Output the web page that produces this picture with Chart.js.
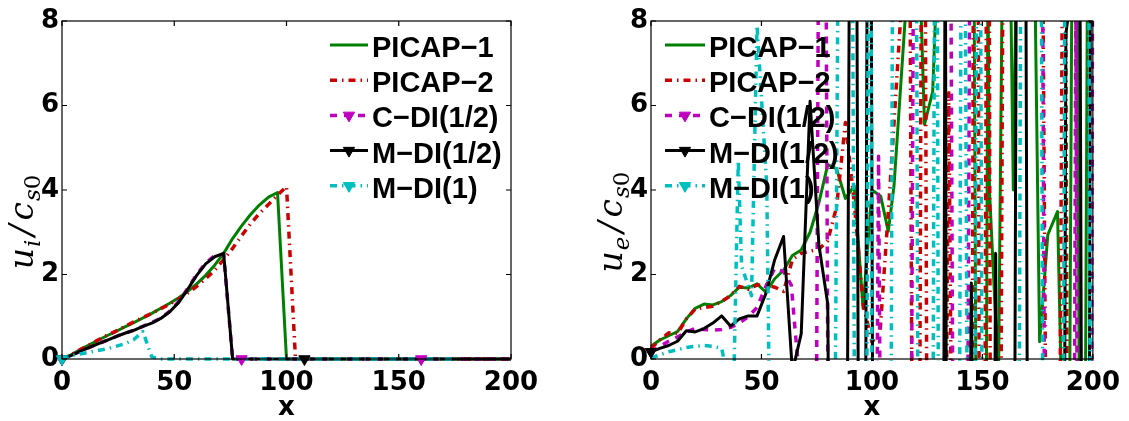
<!DOCTYPE html>
<html>
<head>
<meta charset="utf-8">
<script src="https://cdn.jsdelivr.net/npm/chart.js@4.4.1/dist/chart.umd.min.js"></script>
<style>
  body { margin: 0; background: #fff; }
  #wrap { position: relative; width: 1129px; height: 421px; }
  #leftBox { position: absolute; left: 0; top: 0; }
  #rightBox { position: absolute; left: 565px; top: 0; }
  canvas { display: block; }
</style>
</head>
<body>
<div id="wrap">
  <div id="leftBox"><canvas id="leftChart" width="565" height="421"></canvas></div>
  <div id="rightBox"><canvas id="rightChart" width="564" height="421"></canvas></div>
</div>
<script>
// ---- data ----
var seriesNames = ['PICAP\u22121', 'PICAP\u22122', 'C\u2212DI(1/2)', 'M\u2212DI(1/2)', 'M\u2212DI(1)'];
var xTicks = [0, 50, 100, 150, 200];
var yTicks = [0, 2, 4, 6, 8];

// left panel: u_i / c_s0, sampled every 4 cells
var xLeft = [0,4,8,12,16,20,24,28,32,36,40,44,48,52,56,60,64,68,72,76,80,84,88,92,96,100,
  104,108,112,116,120,124,128,132,136,140,144,148,152,156,160,164,168,172,176,180,184,188,192,196,200];
var picap1Left = [0,0.1,0.22,0.33,0.44,0.55,0.65,0.76,0.86,0.97,1.08,1.2,1.32,1.45,1.6,1.78,1.98,2.22,2.5,2.85,3.15,3.42,3.65,3.83,3.94,0,
  0,0,0,0,0,0,0,0,0,0,0,0,0,0,0,0,0,0,0,0,0,0,0,0,0];
var picap2Left = [0,0.1,0.22,0.33,0.45,0.56,0.66,0.77,0.88,0.98,1.08,1.19,1.3,1.42,1.56,1.72,1.9,2.1,2.35,2.62,2.92,3.2,3.45,3.66,3.88,4.08,0,
  0,0,0,0,0,0,0,0,0,0,0,0,0,0,0,0,0,0,0,0,0,0,0,0];
var cdiLeft = [0,0.08,0.18,0.27,0.36,0.44,0.53,0.61,0.68,0.77,0.86,0.97,1.13,1.36,1.67,2.0,2.27,2.45,2.48,0,
  0,0,0,0,0,0,0,0,0,0,0,0,0,0,0,0,0,0,0,0,0,0,0,0,0,0,0,0,0,0,0];
var mdiHalfLeft = [0,0.08,0.18,0.27,0.36,0.44,0.53,0.61,0.68,0.77,0.85,0.96,1.12,1.34,1.65,1.98,2.25,2.42,2.5,0,
  0,0,0,0,0,0,0,0,0,0,0,0,0,0,0,0,0,0,0,0,0,0,0,0,0,0,0,0,0,0,0];
var mdi1Left = [0,0.08,0.12,0.16,0.2,0.24,0.3,0.36,0.46,0.65,0.05,0,
  0,0,0,0,0,0,0,0,0,0,0,0,0,0,0,0,0,0,0,0,0,0,0,0,0,0,0,0,0,0,0,0,0];
var cdiMarkLeft = [0, 20, 40];
var mdiHalfMarkLeft = [0, 27];
var mdi1MarkLeft = [0, 50];

// right panel: u_e / c_s0 (values beyond the axis run off-scale)
var picap1RightX = [0,4,8,12,16,20,24,28,32,36,40,44,48,52,56,60,64,68,72,76,80,84,88,92,
  96,100,104,107.4,110,116,120,123.8,127.5,130.5,146,148,151,152.5,153.2,157.3,159.5,162,164,166,173,175.9,179.6,184,188,189,191,192.5,194.5,196,198,200];
var picap1RightY = [0.3,0.45,0.55,0.65,0.95,1.2,1.3,1.28,1.36,1.5,1.7,1.68,1.78,1.58,1.9,2.1,2.45,2.58,3.0,3.7,4.6,4.5,3.8,4.1,
  1.2,4.0,3.85,3.02,4.1,8.8,12,5.55,6.33,10.5,12,-12,-12,9,4.0,-0.5,12,12,4.0,12,12,0.41,2.94,3.49,-6,-6,14,14,-8,-8,14,14];
var picap2RightX = [0,4,8,12,16,20,24,28,32,36,40,44,48,52,56,60,64,68,72,76,80,84,
  88,92,96,100,103.7,108.2,113.5,117,119,121,122.5,124,125.5,132,134.8,137.5,145,146,148,149,150.5,152,153,154,157.5,159.5,177,180,184,186.5,187.5,189,200];
var picap2RightY = [0.25,0.45,0.62,0.6,0.95,1.18,1.22,1.25,1.36,1.5,1.72,1.65,1.75,1.75,1.7,1.6,2.35,2.5,2.55,2.6,2.8,3.6,
  5.6,3.7,1.3,0.4,0.65,4.1,8.5,12,-12,-12,12,12,-12,-12,6.3,-12,-12,12,12,-12,-12,12,12,-12,-12,12,12,-12,-12,12,12,-12,-12];
var cdiRightX = [0,4,8,12,16,20,24,28,32,36,40,44,48,52,56,60,
  63.5,68,74,76,79,81,101,103,105,117,119,135.5,137.5,142.5,144.5,177,179,191,192.3,193.5,199,200];
var cdiRightY = [0.17,0.3,0.42,0.52,0.64,0.72,0.7,0.68,0.7,0.75,0.85,1.0,1.22,1.72,2.15,2.07,
  1.75,-1,-12,12,12,-12,-12,4.8,-12,-12,12,12,-12,-12,12,12,-12,-12,8.6,-12,-12,12];
var mdiHalfRightX = [0,4,8,12,16,20,24,28,32,36,40,44,48,52,56,60,64,68,72,76,80,
  82,88,90,93,94.5,96.5,98,99.5,101,132,133.2,134,143,145,147,154.5,156,157.5,164,165.5,169.5,171,186.5,187.8,191,194,195.5,198,199,200];
var mdiHalfRightY = [0.17,0.25,0.32,0.42,0.67,0.64,0.72,0.85,1.02,0.78,0.95,1.02,1.02,1.55,2.35,2.9,-0.3,0.6,6.1,2.7,1.3,
  -12,-12,12,12,-12,-12,12,12,-12,-12,12,-12,-12,1.8,-12,-12,2.5,-12,-12,12,12,-12,-12,7.7,9,12,-12,-12,12,12];
var mdi1RightX = [0,4,8,12,16,20,24,28,32,35,37.5,39.5,41,45.5,48,52.4,53.8,
  82,85,91,93,97,98.5,99.5,100.5,108,109.5,120,121.5,127,128.5,129.5,130.5,139,140.5,142,144,146,147.5,149,150.5,166,167.5,176.5,178,186,187.5,198,199.5,200];
var mdi1RightY = [0.02,0.1,0.17,0.22,0.27,0.3,0.32,0.3,0.25,-0.5,-0.5,4.7,2.2,1.5,7.9,4.1,-2,
  -12,12,12,-12,-12,12,12,-12,-12,12,12,-12,-12,12,12,-12,-12,12,12,-12,-12,12,12,-12,-12,12,12,-12,-12,12,12,-12,-12];
var cdiMarkRight = [0];
var mdiHalfMarkRight = [0];
var mdi1MarkRight = [];

// ---- styles ----
var styles = [
  { color: 'rgb(0,128,0)',   dash: [],              width: 3,   marker: false },
  { color: 'rgb(204,0,0)',   dash: [7, 5, 1.5, 5],  width: 3.5, marker: false },
  { color: 'rgb(191,0,191)', dash: [7, 7],          width: 3.5, marker: true },
  { color: 'rgb(0,0,0)',     dash: [],              width: 3,   marker: true },
  { color: 'rgb(0,191,191)', dash: [7, 5, 1.5, 5],  width: 3.5, marker: true }
];

function toPoints(xs, ys) {
  return xs.map(function (x, i) { return { x: x, y: ys[i] }; });
}

function lineSet(i, xs, ys) {
  var st = styles[i];
  return {
    label: seriesNames[i],
    data: toPoints(xs, ys),
    borderColor: st.color,
    borderWidth: st.width,
    borderDash: st.dash,
    borderJoinStyle: 'round',
    pointRadius: 0,
    tension: 0,
    order: 10 - i,
    clip: { left: 2, top: 0, right: 2, bottom: 2 }
  };
}

function markerSet(i, xs, ys, idx) {
  var st = styles[i];
  return {
    label: seriesNames[i],
    isMarker: true,
    data: idx.map(function (k) { return { x: xs[k], y: ys[k] }; }),
    showLine: false,
    pointStyle: 'triangle',
    pointRotation: 180,
    pointRadius: 6.5,
    pointBackgroundColor: st.color,
    pointBorderColor: st.color,
    pointBorderWidth: 1,
    order: 4 - i,
    clip: false
  };
}

// box with inward ticks, legend and the y label
var framePlugin = {
  id: 'frame',
  afterDatasetsDraw: function (chart, args, opts) {
    var ctx = chart.ctx, a = chart.chartArea, sx = chart.scales.x, sy = chart.scales.y;
    ctx.save();
    ctx.strokeStyle = '#000';
    ctx.lineWidth = 1.2;
    ctx.setLineDash([]);
    ctx.strokeRect(a.left, a.top, a.right - a.left, a.bottom - a.top);
    ctx.beginPath();
    sx.ticks.forEach(function (t) {
      var p = sx.getPixelForValue(t.value);
      ctx.moveTo(p, a.bottom); ctx.lineTo(p, a.bottom - 5);
      ctx.moveTo(p, a.top); ctx.lineTo(p, a.top + 5);
    });
    sy.ticks.forEach(function (t) {
      var p = sy.getPixelForValue(t.value);
      ctx.moveTo(a.left, p); ctx.lineTo(a.left + 5, p);
      ctx.moveTo(a.right, p); ctx.lineTo(a.right - 5, p);
    });
    ctx.stroke();
    ctx.restore();
  },
  afterDraw: function (chart, args, opts) {
    var ctx = chart.ctx, a = chart.chartArea;

    // legend
    var x0 = opts.side === 'right' ? a.right - 181 : a.left + 14;
    var len = opts.side === 'right' ? 38 : 40;
    var k = 0;
    ctx.save();
    chart.data.datasets.forEach(function (ds, i) {
      if (ds.isMarker) return;
      var st = styles[i];
      var y = a.top + 24 + 35.2 * k;
      ctx.strokeStyle = st.color;
      ctx.lineWidth = st.width;
      ctx.lineCap = 'butt';
      ctx.setLineDash(st.dash);
      ctx.beginPath();
      ctx.moveTo(x0, y); ctx.lineTo(x0 + len, y);
      ctx.stroke();
      ctx.setLineDash([]);
      if (st.marker) {
        ctx.fillStyle = st.color;
        ctx.lineWidth = 1;
        Chart.helpers.drawPoint(ctx, { pointStyle: 'triangle', rotation: 180, radius: 6.5, borderWidth: 1 }, x0 + len / 2, y);
      }
      ctx.fillStyle = '#000';
      ctx.font = 'bold 29px "Liberation Sans", Arial, sans-serif';
      ctx.textAlign = 'left';
      ctx.textBaseline = 'alphabetic';
      ctx.fillText(ds.label, x0 + len + 4, y + 12);
      k++;
    });
    ctx.restore();

    // y label  u_i / c_s0
    var big = 'italic 33px "DejaVu Serif"', small = 'italic 23px "DejaVu Serif"', smallUp = '23px "DejaVu Serif"';
    var parts = [
      { t: 'u', f: big, dy: 0, gap: 0 },
      { t: opts.sub, f: small, dy: 7, gap: 1 },
      { t: '/', f: big, dy: 0, gap: 4 },
      { t: 'c', f: big, dy: 0, gap: 4 },
      { t: 's', f: small, dy: 7, gap: 1 },
      { t: '0', f: smallUp, dy: 7, gap: 0 }
    ];
    ctx.save();
    var total = 0;
    parts.forEach(function (p) { ctx.font = p.f; p.w = ctx.measureText(p.t).width; total += p.w + p.gap; });
    ctx.translate(a.left - 29, a.top + 201);
    ctx.rotate(-Math.PI / 2);
    ctx.fillStyle = '#000';
    ctx.textBaseline = 'alphabetic';
    var cx = -total / 2;
    parts.forEach(function (p) {
      cx += p.gap;
      ctx.font = p.f;
      ctx.fillText(p.t, cx, p.dy);
      cx += p.w;
    });
    ctx.restore();
  }
};

function makeOptions(yWidth, padRight, side, sub) {
  var tickFont = { family: 'DejaVu Sans', weight: 'bold', size: 26 };
  return {
    responsive: false,
    animation: false,
    events: [],
    layout: { padding: { top: 21, right: padRight, left: 0, bottom: 0 } },
    scales: {
      x: {
        type: 'linear', min: 0, max: 200,
        afterBuildTicks: function (s) { s.ticks = xTicks.map(function (v) { return { value: v }; }); },
        afterFit: function (s) { s.height = 62; },
        grid: { display: false, drawTicks: false },
        border: { display: false },
        ticks: { font: tickFont, color: '#000', padding: 9, maxRotation: 0 },
        title: { display: true, text: 'x', color: '#000', padding: 0,
                 font: { family: 'DejaVu Sans', weight: 'bold', size: 26, lineHeight: 1 } }
      },
      y: {
        type: 'linear', min: 0, max: 8,
        afterBuildTicks: function (s) { s.ticks = yTicks.map(function (v) { return { value: v }; }); },
        afterFit: function (s) { s.width = yWidth; },
        grid: { display: false, drawTicks: false },
        border: { display: false },
        ticks: { font: tickFont, color: '#000', padding: 3 }
      }
    },
    plugins: {
      legend: { display: false },
      tooltip: { enabled: false },
      frame: { side: side, sub: sub }
    }
  };
}

new Chart(document.getElementById('leftChart').getContext('2d'), {
  type: 'line',
  data: {
    datasets: [
      lineSet(0, xLeft, picap1Left),
      lineSet(1, xLeft, picap2Left),
      lineSet(2, xLeft, cdiLeft),
      lineSet(3, xLeft, mdiHalfLeft),
      lineSet(4, xLeft, mdi1Left),
      markerSet(2, xLeft, cdiLeft, cdiMarkLeft),
      markerSet(3, xLeft, mdiHalfLeft, mdiHalfMarkLeft),
      markerSet(4, xLeft, mdi1Left, mdi1MarkLeft)
    ]
  },
  options: makeOptions(62, 54, 'right', 'i'),
  plugins: [framePlugin]
});

new Chart(document.getElementById('rightChart').getContext('2d'), {
  type: 'line',
  data: {
    datasets: [
      lineSet(0, picap1RightX, picap1RightY),
      lineSet(1, picap2RightX, picap2RightY),
      lineSet(2, cdiRightX, cdiRightY),
      lineSet(3, mdiHalfRightX, mdiHalfRightY),
      lineSet(4, mdi1RightX, mdi1RightY),
      markerSet(2, cdiRightX, cdiRightY, cdiMarkRight),
      markerSet(3, mdiHalfRightX, mdiHalfRightY, mdiHalfMarkRight),
      markerSet(4, mdi1RightX, mdi1RightY, mdi1MarkRight)
    ]
  },
  options: makeOptions(86, 30, 'left', 'e'),
  plugins: [framePlugin]
});
</script>
</body>
</html>
